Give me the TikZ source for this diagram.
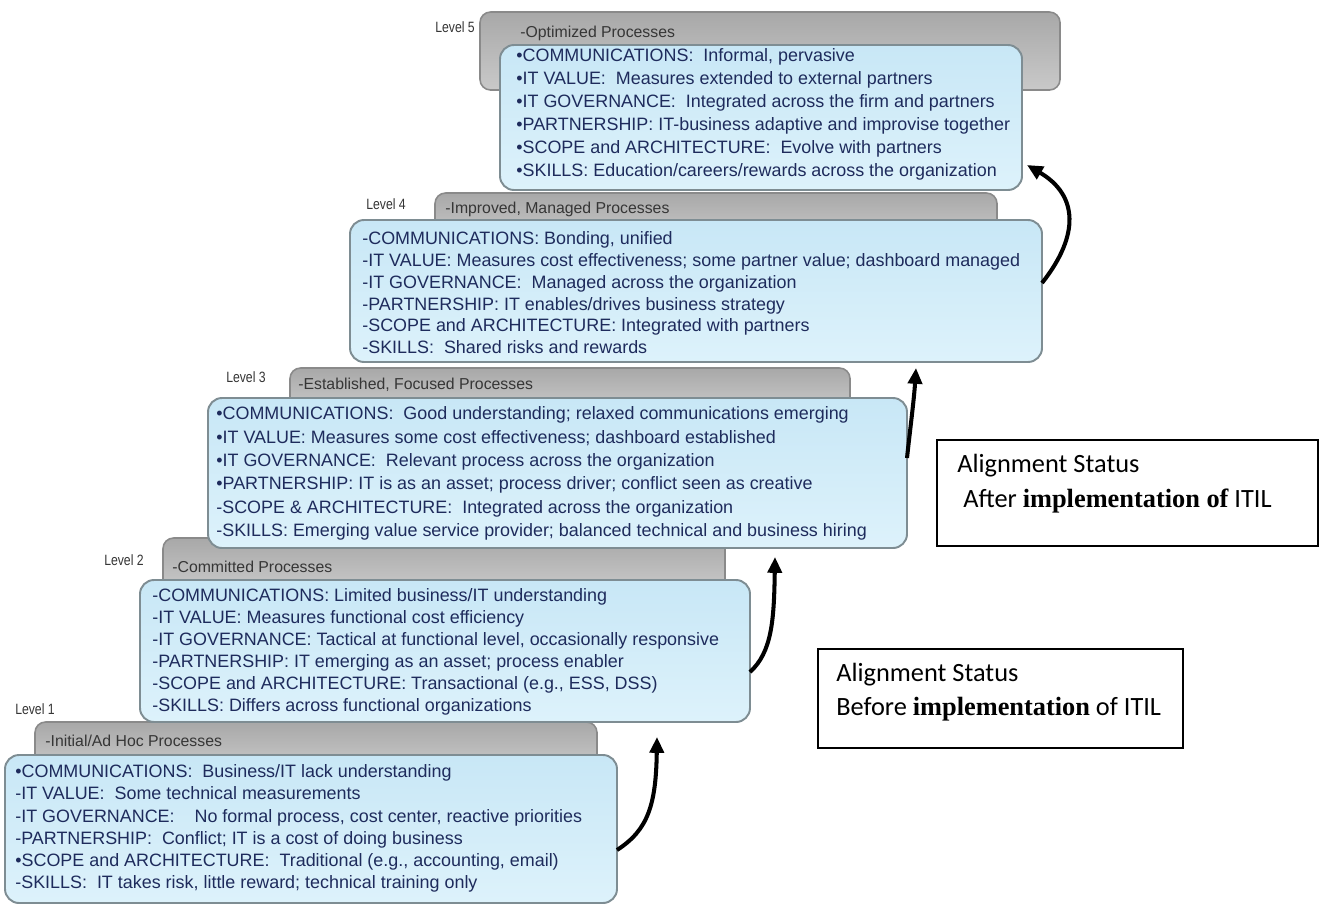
\documentclass[tikz,border=0pt]{standalone}
\usepackage{fontspec}
\setmainfont{Liberation Sans}
\newfontfamily\calfont{Carlito}
\newfontfamily\serfont{Liberation Serif}
\newfontfamily\condfont[FakeStretch=0.82]{Liberation Sans}
\usetikzlibrary{arrows.meta,fit}
\definecolor{boxedge}{HTML}{7E8D93}
\definecolor{boxtop}{HTML}{C8E7F6}
\definecolor{boxbot}{HTML}{DDF2FB}
\definecolor{tabedge}{HTML}{8A8A8A}
\definecolor{tabtop}{HTML}{A8A8A8}
\definecolor{tabbot}{HTML}{C9C9C9}
\definecolor{navy}{HTML}{1E2B5C}
\definecolor{labgray}{HTML}{363636}
\tikzset{
 levelbox/.style={draw=boxedge, line width=1.1pt, top color=boxtop, bottom color=boxbot, rounded corners=8pt, inner sep=0pt},
 tabbox/.style={draw=tabedge, line width=0.9pt, top color=tabtop, bottom color=tabbot, rounded corners=6pt, inner sep=0pt},
 bodytext/.style={anchor=mid west, inner sep=0pt, text=navy, font=\fontsize{10.2}{12}\selectfont},
 tabtext/.style={anchor=mid west, inner sep=0pt, text=labgray, font=\fontsize{9}{11}\selectfont},
 levellabel/.style={anchor=mid, inner sep=0pt, text=labgray, font=\condfont\fontsize{8.5}{10}\selectfont},
 upflow/.style={line width=2.3pt, -{Triangle[length=9pt,width=8pt]}},
 statusbox/.style={draw=black, line width=0.9pt, inner sep=0pt},
 statustext/.style={anchor=mid west, inner sep=0pt, font=\calfont\fontsize{15}{18}\selectfont},
}
\begin{document}
\begin{tikzpicture}[x=0.02cm, y=-0.02cm]
\useasboundingbox (0,0) rectangle (1322,907);
\fill[white] (0,0) rectangle (1322,907);

% ---------- Level 1
\node[tabbox, fit={(35,722) (597,770)}] (g1) {};
\node[levelbox, fit={(5,755) (617,903)}] (b1) {};
\node[levellabel] (lab1) at (35,710) {Level 1};
\node[tabtext] (h1) at (45,742) {-Initial/Ad Hoc Processes};
\foreach \t [count=\i] in {
 {•COMMUNICATIONS:\ \ Business/IT lack understanding},
 {-IT VALUE:\ \ Some technical measurements},
 {-IT GOVERNANCE:\ \ \ \ No formal process, cost center, reactive priorities},
 {-PARTNERSHIP:\ \ Conflict; IT is a cost of doing business},
 {•SCOPE and ARCHITECTURE:\ \ Traditional (e.g., accounting, email)},
 {-SKILLS:\ \ IT takes risk, little reward; technical training only}}
 \node[bodytext] (t1-\i) at (15,{773+22.2*(\i-1)}) {\t};

% ---------- Level 2
\node[tabbox, fit={(163,538) (725,590)}] (g2) {};
\node[levelbox, fit={(140,580) (750,722)}] (b2) {};
\node[levellabel] (lab2) at (124,561) {Level 2};
\node[tabtext] (h2) at (172,568) {-Committed Processes};
\foreach \t [count=\i] in {
 {-COMMUNICATIONS:\ Limited business/IT understanding},
 {-IT VALUE:\ Measures functional cost efficiency},
 {-IT GOVERNANCE:\ Tactical at functional level, occasionally responsive},
 {-PARTNERSHIP:\ IT emerging as an asset; process enabler},
 {-SCOPE and ARCHITECTURE:\ Transactional (e.g., ESS, DSS)},
 {-SKILLS: Differs across functional organizations}}
 \node[bodytext] (t2-\i) at (152,{597+22*(\i-1)}) {\t};

% ---------- Level 3
\node[tabbox, fit={(290,368) (850,410)}] (g3) {};
\node[levelbox, fit={(208,398) (907,548)}] (b3) {};
\node[levellabel] (lab3) at (246,378) {Level 3};
\node[tabtext] (h3) at (298,385) {-Established, Focused Processes};
\foreach \t [count=\i] in {
 {•COMMUNICATIONS:\ \ Good understanding; relaxed communications emerging},
 {•IT VALUE:\ Measures some cost effectiveness; dashboard established},
 {•IT GOVERNANCE:\ \ Relevant process across the organization},
 {•PARTNERSHIP:\ IT is as an asset; process driver; conflict seen as creative},
 {-SCOPE \& ARCHITECTURE:\ \ Integrated across the organization},
 {-SKILLS:\ Emerging value service provider; balanced technical and business hiring}}
 \node[bodytext] (t3-\i) at (216,{415+23.4*(\i-1)}) {\t};

% ---------- Level 4
\node[tabbox, fit={(435,193) (997,240)}] (g4) {};
\node[levelbox, fit={(350,220) (1042,362)}] (b4) {};
\node[levellabel] (lab4) at (386,205) {Level 4};
\node[tabtext] (h4) at (445,209) {-Improved, Managed Processes};
\foreach \t [count=\i] in {
 {-COMMUNICATIONS:\ Bonding, unified},
 {-IT VALUE:\ Measures cost effectiveness; some partner value; dashboard managed},
 {-IT GOVERNANCE:\ \ Managed across the organization},
 {-PARTNERSHIP:\ IT enables/drives business strategy},
 {-SCOPE and ARCHITECTURE:\ Integrated with partners},
 {-SKILLS:\ \ Shared risks and rewards}}
 \node[bodytext] (t4-\i) at (362,{240+21.8*(\i-1)}) {\t};

% ---------- Level 5
\node[tabbox, fit={(480,12) (1060,90)}] (g5) {};
\node[levelbox, fit={(500,45) (1022,190)}] (b5) {};
\node[levellabel] (lab5) at (455,28) {Level 5};
\node[tabtext] (h5) at (520,33) {-Optimized Processes};
\foreach \t [count=\i] in {
 {•COMMUNICATIONS:\ \ Informal, pervasive},
 {•IT VALUE:\ \ Measures extended to external partners},
 {•IT GOVERNANCE:\ \ Integrated across the firm and partners},
 {•PARTNERSHIP:\ IT-business adaptive and improvise together},
 {•SCOPE and ARCHITECTURE:\ \ Evolve with partners},
 {•SKILLS:\ Education/careers/rewards across the organization}}
 \node[bodytext] (t5-\i) at (516,{57+23*(\i-1)}) {\t};

% ---------- arrows between levels
\coordinate (a1s) at (617,850);  \coordinate (a1e) at (657,737);
\coordinate (a2s) at (750,672);  \coordinate (a2e) at (775,557);
\coordinate (a3s) at (907,458);  \coordinate (a3e) at (916,368);
\coordinate (a4s) at (1042,283); \coordinate (a4e) at (1027,165);
\draw[upflow] (a1s) .. controls (648,830) and (656,805) .. (a1e);
\draw[upflow] (a2s) .. controls (772,652) and (774,620) .. (a2e);
\draw[upflow] (a3s) .. controls (910,430) and (914,400) .. (a3e);
\draw[upflow] (a4s) .. controls (1080,235) and (1078,195) .. (a4e);

% ---------- status boxes
\node[statusbox, fit={(937,440) (1318,546)}] (after) {};
\node[statustext] (after1) at (957,468) {Alignment Status};
\node[statustext] (after2) at (963,503) {After {\serfont\bfseries implementation of} ITIL};
\node[statusbox, fit={(818,649) (1183,748)}] (before) {};
\node[statustext] (before1) at (836,677) {Alignment Status};
\node[statustext] (before2) at (836,711) {Before {\serfont\bfseries implementation} of ITIL};
\end{tikzpicture}
\end{document}
